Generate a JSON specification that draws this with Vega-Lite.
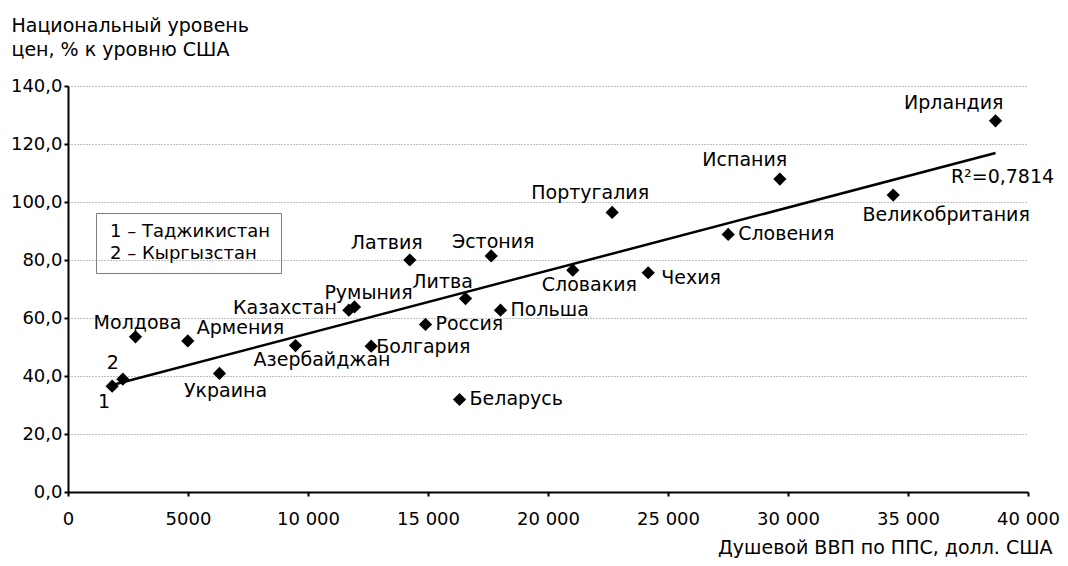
{
  "$schema": "https://vega.github.io/schema/vega-lite/v6.json",
  "width": 960,
  "height": 406,
  "autosize": {"type": "none"},
  "padding": {"left": 68, "top": 86, "right": 40, "bottom": 74},
  "background": "white",
  "config": {"font": "DejaVu Sans", "view": {"stroke": null}},
  "datasets": {
    "pts": [
      {"name": "Таджикистан", "label": "1", "gdp": 1840, "price": 36.5},
      {"name": "Кыргызстан", "label": "2", "gdp": 2285, "price": 38.9},
      {"name": "Молдова", "label": "Молдова", "gdp": 2812, "price": 53.5},
      {"name": "Армения", "label": "Армения", "gdp": 4992, "price": 52.1},
      {"name": "Украина", "label": "Украина", "gdp": 6312, "price": 40.9},
      {"name": "Азербайджан", "label": "Азербайджан", "gdp": 9479, "price": 50.5},
      {"name": "Казахстан", "label": "Казахстан", "gdp": 11701, "price": 62.7},
      {"name": "Румыния", "label": "Румыния", "gdp": 11938, "price": 63.8},
      {"name": "Болгария", "label": "Болгария", "gdp": 12632, "price": 50.3},
      {"name": "Латвия", "label": "Латвия", "gdp": 14242, "price": 80.0},
      {"name": "Россия", "label": "Россия", "gdp": 14896, "price": 57.8},
      {"name": "Беларусь", "label": "Беларусь", "gdp": 16313, "price": 31.9},
      {"name": "Литва", "label": "Литва", "gdp": 16563, "price": 66.7},
      {"name": "Эстония", "label": "Эстония", "gdp": 17633, "price": 81.4},
      {"name": "Польша", "label": "Польша", "gdp": 18021, "price": 62.7},
      {"name": "Словакия", "label": "Словакия", "gdp": 21033, "price": 76.5},
      {"name": "Португалия", "label": "Португалия", "gdp": 22674, "price": 96.4},
      {"name": "Чехия", "label": "Чехия", "gdp": 24175, "price": 75.6},
      {"name": "Словения", "label": "Словения", "gdp": 27508, "price": 88.8},
      {"name": "Испания", "label": "Испания", "gdp": 29660, "price": 107.9},
      {"name": "Великобритания", "label": "Великобритания", "gdp": 34383, "price": 102.4},
      {"name": "Ирландия", "label": "Ирландия", "gdp": 38646, "price": 128.0}
    ],
    "annot": [
      {"text": "R²=0,7814", "gdp": 38938, "price": 108.7}
    ]
  },
  "data": {"name": "pts"},
  "encoding": {
    "x": {
      "field": "gdp", "type": "quantitative",
      "scale": {"domain": [0, 40000], "nice": false, "zero": true},
      "axis": {
        "values": [0, 5000, 10000, 15000, 20000, 25000, 30000, 35000, 40000],
        "labelExpr": "datum.value >= 10000 ? replace(format(datum.value, ','), ',', ' ') : format(datum.value, 'd')",
        "grid": false,
        "domainColor": "black", "domainWidth": 2,
        "tickColor": "black", "tickWidth": 2, "tickSize": 4,
        "labelPadding": 14, "labelFontSize": 18, "labelColor": "black", "labelFont": "DejaVu Sans",
        "labelOverlap": false, "labelFlush": false,
        "title": "Душевой ВВП по ППС, долл. США",
        "titleFont": "DejaVu Sans", "titleFontSize": 19, "titleFontWeight": "normal", "titleColor": "black",
        "titleAlign": "right", "titleBaseline": "alphabetic", "titleX": 984, "titleY": 61
      }
    },
    "y": {
      "field": "price", "type": "quantitative",
      "scale": {"domain": [0, 140], "nice": false, "zero": true},
      "axis": {
        "values": [0, 20, 40, 60, 80, 100, 120, 140],
        "labelExpr": "replace(format(datum.value, '.1f'), '.', ',')",
        "grid": true, "gridDash": [1, 2], "gridColor": "#7f7f7f", "gridWidth": 1,
        "domainColor": "black", "domainWidth": 2,
        "tickColor": "black", "tickWidth": 2, "tickSize": 4,
        "labelPadding": 2, "labelFontSize": 18, "labelColor": "black", "labelFont": "DejaVu Sans",
        "labelOverlap": false, "labelFlush": false,
        "title": ["Национальный уровень", "цен, % к уровню США"],
        "titleFont": "DejaVu Sans", "titleFontSize": 19, "titleFontWeight": "normal", "titleColor": "black",
        "titleAngle": 0, "titleAlign": "left", "titleBaseline": "alphabetic",
        "titleX": -57, "titleY": -55, "titleLineHeight": 24
      }
    }
  },
  "layer": [
    {
      "transform": [{"regression": "price", "on": "gdp"}],
      "mark": {"type": "line", "color": "black", "strokeWidth": 2.5}
    },
    {
      "mark": {"type": "point", "shape": "diamond", "filled": true, "color": "black", "size": 175, "opacity": 1}
    },
    {
      "transform": [{"filter": {"field": "name", "oneOf": ["Словения", "Польша", "Россия", "Беларусь"]}}],
      "mark": {"type": "text", "align": "left", "baseline": "middle", "dx": 10, "dy": 0, "fontSize": 19, "color": "black"},
      "encoding": {"text": {"field": "label"}}
    },
    {
      "transform": [{"filter": {"field": "name", "oneOf": ["Болгария"]}}],
      "mark": {"type": "text", "align": "left", "baseline": "middle", "dx": 5, "dy": 1, "fontSize": 19, "color": "black"},
      "encoding": {"text": {"field": "label"}}
    },
    {
      "transform": [{"filter": {"field": "name", "oneOf": ["Чехия"]}}],
      "mark": {"type": "text", "align": "left", "baseline": "middle", "dx": 13, "dy": 5, "fontSize": 19, "color": "black"},
      "encoding": {"text": {"field": "label"}}
    },
    {
      "transform": [{"filter": {"field": "name", "oneOf": ["Армения"]}}],
      "mark": {"type": "text", "align": "left", "baseline": "middle", "dx": 9, "dy": -13, "fontSize": 19, "color": "black"},
      "encoding": {"text": {"field": "label"}}
    },
    {
      "transform": [{"filter": {"field": "name", "oneOf": ["Казахстан"]}}],
      "mark": {"type": "text", "align": "right", "baseline": "middle", "dx": -12, "dy": -2, "fontSize": 19, "color": "black"},
      "encoding": {"text": {"field": "label"}}
    },
    {
      "transform": [{"filter": {"field": "name", "oneOf": ["Ирландия"]}}],
      "mark": {"type": "text", "align": "right", "baseline": "middle", "dx": 8, "dy": -18, "fontSize": 19, "color": "black"},
      "encoding": {"text": {"field": "label"}}
    },
    {
      "transform": [{"filter": {"field": "name", "oneOf": ["Испания"]}}],
      "mark": {"type": "text", "align": "center", "baseline": "middle", "dx": -35, "dy": -19, "fontSize": 19, "color": "black"},
      "encoding": {"text": {"field": "label"}}
    },
    {
      "transform": [{"filter": {"field": "name", "oneOf": ["Португалия"]}}],
      "mark": {"type": "text", "align": "center", "baseline": "middle", "dx": -22, "dy": -19, "fontSize": 19, "color": "black"},
      "encoding": {"text": {"field": "label"}}
    },
    {
      "transform": [{"filter": {"field": "name", "oneOf": ["Латвия", "Литва"]}}],
      "mark": {"type": "text", "align": "center", "baseline": "middle", "dx": -23, "dy": -17, "fontSize": 19, "color": "black"},
      "encoding": {"text": {"field": "label"}}
    },
    {
      "transform": [{"filter": {"field": "name", "oneOf": ["Эстония", "Молдова"]}}],
      "mark": {"type": "text", "align": "center", "baseline": "middle", "dx": 2, "dy": -14, "fontSize": 19, "color": "black"},
      "encoding": {"text": {"field": "label"}}
    },
    {
      "transform": [{"filter": {"field": "name", "oneOf": ["Румыния"]}}],
      "mark": {"type": "text", "align": "center", "baseline": "middle", "dx": 14, "dy": -14, "fontSize": 19, "color": "black"},
      "encoding": {"text": {"field": "label"}}
    },
    {
      "transform": [{"filter": {"field": "name", "oneOf": ["Великобритания"]}}],
      "mark": {"type": "text", "align": "center", "baseline": "middle", "dx": 53, "dy": 20, "fontSize": 19, "color": "black"},
      "encoding": {"text": {"field": "label"}}
    },
    {
      "transform": [{"filter": {"field": "name", "oneOf": ["Азербайджан"]}}],
      "mark": {"type": "text", "align": "right", "baseline": "middle", "dx": 95, "dy": 14, "fontSize": 19, "color": "black"},
      "encoding": {"text": {"field": "label"}}
    },
    {
      "transform": [{"filter": {"field": "name", "oneOf": ["Словакия"]}}],
      "mark": {"type": "text", "align": "left", "baseline": "middle", "dx": -31, "dy": 15, "fontSize": 19, "color": "black"},
      "encoding": {"text": {"field": "label"}}
    },
    {
      "transform": [{"filter": {"field": "name", "oneOf": ["Украина"]}}],
      "mark": {"type": "text", "align": "center", "baseline": "middle", "dx": 6, "dy": 18, "fontSize": 19, "color": "black"},
      "encoding": {"text": {"field": "label"}}
    },
    {
      "transform": [{"filter": {"field": "name", "oneOf": ["Таджикистан"]}}],
      "mark": {"type": "text", "align": "center", "baseline": "middle", "dx": -8, "dy": 16, "fontSize": 19, "color": "black"},
      "encoding": {"text": {"field": "label"}}
    },
    {
      "transform": [{"filter": {"field": "name", "oneOf": ["Кыргызстан"]}}],
      "mark": {"type": "text", "align": "center", "baseline": "middle", "dx": -10, "dy": -16, "fontSize": 19, "color": "black"},
      "encoding": {
        "text": {"field": "label"}
      }
    },
    {
      "transform": [{"filter": {"field": "name", "oneOf": ["Таджикистан", "Кыргызстан"]}}],
      "mark": {"type": "text", "opacity": 0, "fontSize": 19},
      "encoding": {
        "text": {"field": "label"},
        "color": {
          "field": "label", "type": "nominal",
          "scale": {"range": ["black", "black"]},
          "legend": {
            "orient": "none", "legendX": 28, "legendY": 127,
            "title": null,
            "labelExpr": "datum.value == '1' ? '1 – Таджикистан' : '2 – Кыргызстан'",
            "symbolOpacity": 0, "symbolSize": 0, "symbolStrokeWidth": 0, "symbolType": "circle",
            "labelOffset": -14, "labelLimit": 400,
            "labelFont": "DejaVu Sans", "labelFontSize": 18, "labelColor": "black",
            "strokeColor": "#7f7f7f", "padding": 10, "rowPadding": 4
          }
        }
      }
    },
    {
      "data": {"name": "annot"},
      "mark": {"type": "text", "align": "center", "baseline": "middle", "fontSize": 19, "color": "black"},
      "encoding": {"text": {"field": "text"}}
    }
  ]
}
